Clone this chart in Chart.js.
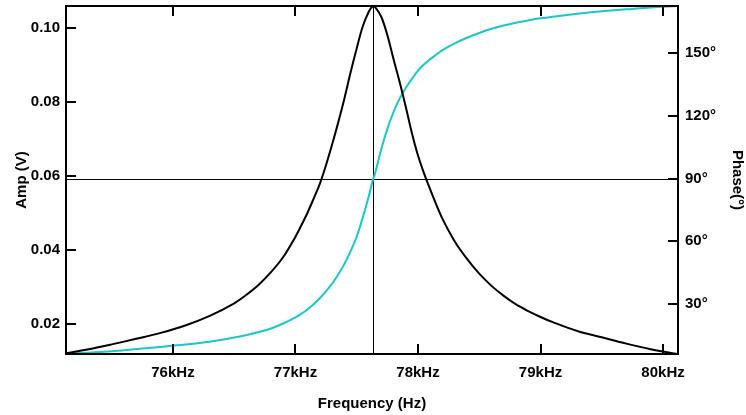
<!DOCTYPE html>
<html>
<head>
<meta charset="utf-8">
<script src="https://cdn.jsdelivr.net/npm/chart.js@4.4.1/dist/chart.umd.min.js"></script>
<style>
  html, body { margin: 0; padding: 0; background: #fff; }
</style>
</head>
<body>
<canvas id="myChart" width="746" height="415"></canvas>
<script>
// Resonance sweep: amplitude and phase against drive frequency

const freqKHz = [75.13, 75.3, 75.5, 75.7, 75.9, 76.1, 76.3, 76.5, 76.6, 76.7,
    76.8, 76.9, 77.0, 77.05, 77.1, 77.15, 77.2, 77.25, 77.3, 77.35,
    77.4, 77.45, 77.5, 77.55, 77.6, 77.63, 77.65, 77.7, 77.75, 77.8,
    77.85, 77.9, 77.95, 78.0, 78.05, 78.1, 78.15, 78.2, 78.3, 78.4,
    78.5, 78.6, 78.7, 78.8, 78.9, 79.0, 79.1, 79.3, 79.5, 79.7,
    79.9, 80.12];

const ampVolts = [0.0121, 0.0131, 0.0145, 0.0160, 0.0176, 0.0196, 0.0222, 0.0256, 0.0279, 0.0306,
    0.0340, 0.0381, 0.0436, 0.0468, 0.0502, 0.0540, 0.0580, 0.0630, 0.0686, 0.0746,
    0.0810, 0.0880, 0.0945, 0.1005, 0.1045, 0.1058, 0.1056, 0.1030, 0.0980, 0.0916,
    0.0854, 0.0787, 0.0716, 0.0655, 0.0606, 0.0563, 0.0522, 0.0484, 0.0423, 0.0376,
    0.0336, 0.0303, 0.0276, 0.0253, 0.0235, 0.0219, 0.0205, 0.0181, 0.0164, 0.0147,
    0.0132, 0.0119];

const phaseDeg = [6.4, 6.7, 7.4, 8.5, 9.5, 10.6, 12.0, 14.0, 15.2, 16.6,
    18.3, 20.7, 23.6, 25.4, 27.5, 30.0, 32.9, 36.2, 39.8, 44.2,
    49.2, 55.3, 62.3, 71.5, 81.9, 89.0, 92.6, 104.0, 113.8, 121.8,
    128.2, 133.3, 137.6, 141.6, 144.6, 147.1, 149.3, 151.4, 154.6, 157.3,
    159.6, 161.6, 163.2, 164.5, 165.6, 166.6, 167.4, 168.8, 170.0, 170.9,
    171.8, 172.5];

const freqTicks = [76, 77, 78, 79, 80];
const ampTicks = [0.02, 0.04, 0.06, 0.08, 0.10];
const phaseTicks = [30, 60, 90, 120, 150];

// axis limits
const freqRange = [75.127, 80.122];
const ampRange = [0.0119, 0.1059];
const phaseRange = [6.1, 172.5];

// cursor at the resonance peak / 90 degree phase
const cursorFreq = 77.633;
const cursorPhase = 90;

const labelFont = { family: "'Liberation Sans', Arial, sans-serif", size: 15, weight: 'bold' };
const tickLen = 10;

const framePlugin = {
    id: 'frame',
    beforeDatasetsDraw(chart) {
        const { ctx, chartArea: a, scales } = chart;
        const cx = Math.round(scales.x.getPixelForValue(cursorFreq)) + 0.5;
        const cy = Math.round(scales.y1.getPixelForValue(cursorPhase)) + 0.5;
        ctx.save();
        ctx.strokeStyle = '#000';
        ctx.lineWidth = 1;
        ctx.beginPath();
        ctx.moveTo(cx, a.top);
        ctx.lineTo(cx, a.bottom);
        ctx.moveTo(a.left, cy);
        ctx.lineTo(a.right, cy);
        ctx.stroke();
        ctx.restore();
    },
    afterDatasetsDraw(chart) {
        const { ctx, chartArea: a, scales } = chart;
        ctx.save();
        ctx.strokeStyle = '#000';
        ctx.lineWidth = 2;
        ctx.beginPath();
        for (const v of freqTicks) {
            const px = Math.round(scales.x.getPixelForValue(v));
            ctx.moveTo(px, a.bottom);
            ctx.lineTo(px, a.bottom - tickLen);
            ctx.moveTo(px, a.top);
            ctx.lineTo(px, a.top + tickLen);
        }
        for (const v of ampTicks) {
            const py = Math.round(scales.y.getPixelForValue(v));
            ctx.moveTo(a.left, py);
            ctx.lineTo(a.left + tickLen, py);
        }
        for (const v of phaseTicks) {
            const py = Math.round(scales.y1.getPixelForValue(v));
            ctx.moveTo(a.right, py);
            ctx.lineTo(a.right - tickLen, py);
        }
        ctx.stroke();
        ctx.strokeRect(a.left, a.top, a.right - a.left, a.bottom - a.top);
        ctx.restore();
    }
};

function fixedTicks(values) {
    return (scale) => { scale.ticks = values.map(v => ({ value: v })); };
}

// fixed box sizes, no extra label padding around the plot area
function fixedSize(w, h) {
    return (s) => {
        if (w) s.width = w;
        if (h) s.height = h;
        s.paddingTop = 0;
        s.paddingBottom = 0;
        s.paddingLeft = 0;
        s.paddingRight = 0;
    };
}

let ctx = document.getElementById('myChart').getContext('2d');
let myChart = new Chart(ctx, {
    type: 'line',
    data: {
        datasets: [{
                label: 'Amp',
                data: freqKHz.map((f, i) => ({ x: f, y: ampVolts[i] })),
                yAxisID: 'y',
                borderColor: '#000000',
                borderWidth: 2,
                pointRadius: 0,
                tension: 0.35
            },
            {
                label: 'Phase',
                data: freqKHz.map((f, i) => ({ x: f, y: phaseDeg[i] })),
                yAxisID: 'y1',
                borderColor: '#1cc6c8',
                borderWidth: 2,
                pointRadius: 0,
                tension: 0.35
            }
        ]
    },
    options: {
        responsive: false,
        animation: false,
        devicePixelRatio: 1,
        layout: { padding: { top: 6, left: 0, right: 0, bottom: 0 } },
        plugins: { legend: { display: false }, tooltip: { enabled: false } },
        scales: {
            x: {
                type: 'linear',
                min: freqRange[0],
                max: freqRange[1],
                afterBuildTicks: fixedTicks(freqTicks),
                afterFit: fixedSize(0, 61),
                grid: { display: false, drawTicks: false },
                border: { display: false },
                ticks: {
                    color: '#000',
                    font: labelFont,
                    padding: 10,
                    maxRotation: 0,
                    callback: (v) => v + 'kHz'
                },
                title: { display: true, text: 'Frequency (Hz)', color: '#000', font: labelFont, padding: 2 }
            },
            y: {
                position: 'left',
                min: ampRange[0],
                max: ampRange[1],
                afterBuildTicks: fixedTicks(ampTicks),
                afterFit: fixedSize(66, 0),
                grid: { display: false, drawTicks: false },
                border: { display: false },
                ticks: {
                    color: '#000',
                    font: labelFont,
                    padding: 6,
                    callback: (v) => v.toFixed(2)
                },
                title: { display: true, text: 'Amp (V)', color: '#000', font: labelFont, padding: 13 }
            },
            y1: {
                position: 'right',
                min: phaseRange[0],
                max: phaseRange[1],
                afterBuildTicks: fixedTicks(phaseTicks),
                afterFit: fixedSize(68, 0),
                grid: { display: false, drawTicks: false },
                border: { display: false },
                ticks: {
                    color: '#000',
                    font: labelFont,
                    padding: 7,
                    callback: (v) => v + '°'
                },
                title: { display: true, text: 'Phase(°)', color: '#000', font: labelFont, padding: 0 }
            }
        }
    },
    plugins: [framePlugin]
});
</script>
</body>
</html>
